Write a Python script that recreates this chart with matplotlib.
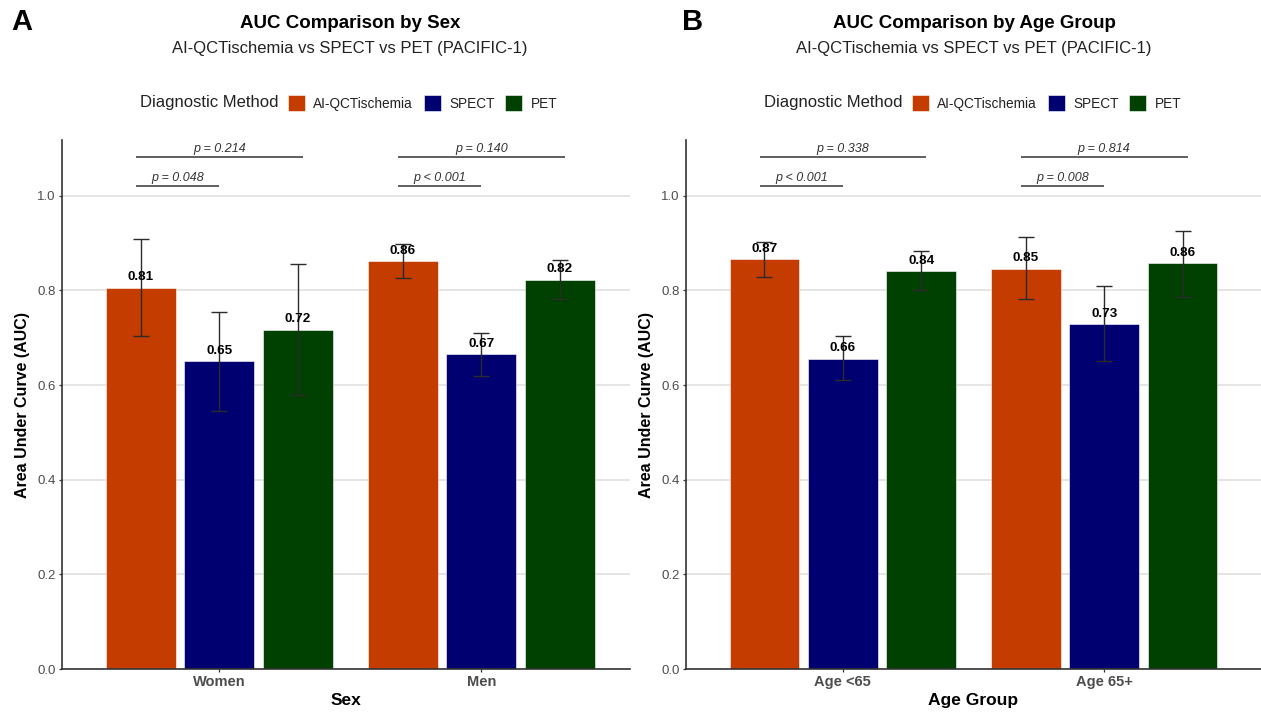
import matplotlib
matplotlib.use('Agg')
import matplotlib.pyplot as plt
from matplotlib.patches import Patch
import numpy as np

plt.rcParams['font.family'] = ['Liberation Sans', 'DejaVu Sans']

# ---------------- data ----------------
methods = ['AI-QCTischemia', 'SPECT', 'PET']
method_colors = ['#C43C00', '#000070', '#004000']

sex_groups = ['Women', 'Men']
sex_auc = [[0.806, 0.862], [0.650, 0.666], [0.717, 0.823]]
sex_lo = [[0.703, 0.826], [0.546, 0.619], [0.579, 0.781]]
sex_hi = [[0.909, 0.899], [0.754, 0.711], [0.855, 0.865]]
sex_p_spect = ['p = 0.048', 'p < 0.001']
sex_p_pet = ['p = 0.214', 'p = 0.140']

age_groups = ['Age <65', 'Age 65+']
age_auc = [[0.866, 0.846], [0.656, 0.729], [0.841, 0.857]]
age_lo = [[0.829, 0.781], [0.610, 0.650], [0.800, 0.787]]
age_hi = [[0.903, 0.912], [0.703, 0.809], [0.883, 0.926]]
age_p_spect = ['p < 0.001', 'p = 0.008']
age_p_pet = ['p = 0.338', 'p = 0.814']

y_ticks = [0.0, 0.2, 0.4, 0.6, 0.8, 1.0]

# ---------------- figure ----------------
W, H = 1261, 712
fig = plt.figure(figsize=(W / 100, H / 100), dpi=100)


def fx(px):
    return px / W


def fy(py):
    return 1 - py / H


def panel(ax, groups, auc, lo, hi, p_spect, p_pet, xlabel, xlim, title, subtitle,
          letter, letter_x, center_px):
    x = np.arange(1, len(groups) + 1)
    offsets = [-0.3, 0.0, 0.3]
    bw = 0.267
    handles = []
    for m, (name, col) in enumerate(zip(methods, method_colors)):
        vals = np.array(auc[m])
        xs = x + offsets[m]
        ax.bar(xs, vals, width=bw, color=col, edgecolor='white', linewidth=0.4,
               zorder=2, label=name)
        handles.append(Patch(facecolor=col, edgecolor='white', linewidth=0.4))
        err = np.vstack([vals - np.array(lo[m]), np.array(hi[m]) - vals])
        ax.errorbar(xs, vals, yerr=err, fmt='none', ecolor='#2b2b2b', elinewidth=1.0,
                    capsize=5.8, capthick=1.0, zorder=3)
        for xi, v in zip(xs, vals):
            ax.text(xi, v + 0.009, f'{v:.2f}', ha='center', va='bottom',
                    fontsize=9.7, fontweight='bold', color='black', zorder=4)
    # significance brackets
    y_low, y_high = 1.021, 1.082
    for i, xi in enumerate(x):
        ax.plot([xi - 0.317, xi], [y_low, y_low], color='#444444', lw=1.2,
                solid_capstyle='butt', zorder=3)
        ax.text(xi - 0.158, y_low + 0.004, p_spect[i], ha='center', va='bottom',
                fontsize=9, style='italic', color='#333333')
        ax.plot([xi - 0.317, xi + 0.32], [y_high, y_high], color='#444444', lw=1.2,
                solid_capstyle='butt', zorder=3)
        ax.text(xi, y_high + 0.004, p_pet[i], ha='center', va='bottom',
                fontsize=9, style='italic', color='#333333')

    ax.set_xlim(*xlim)
    ax.set_ylim(0, 1.118)
    ax.set_xticks(x)
    ax.set_xticklabels(groups, fontsize=10.5, fontweight='bold', color='#4D4D4D')
    ax.set_yticks(y_ticks)
    ax.set_yticklabels([f'{t:.1f}' for t in y_ticks], fontsize=9.5, color='#4D4D4D')
    ax.tick_params(axis='both', length=2.5, width=0.9, color='#333333', pad=2)
    ax.grid(axis='y', color='#DEDEDE', lw=1.1, zorder=0)
    ax.set_axisbelow(True)
    for s in ['top', 'right']:
        ax.spines[s].set_visible(False)
    for s in ['left', 'bottom']:
        ax.spines[s].set_color('#333333')
        ax.spines[s].set_linewidth(1.2)
    ax.set_xlabel(xlabel, fontsize=12.5, fontweight='bold', labelpad=3)
    ax.set_ylabel('Area Under Curve (AUC)', fontsize=11.5, fontweight='bold', labelpad=5)

    fig.text(fx(center_px), fy(24), title, ha='center', va='center', fontsize=13.5,
             fontweight='bold')
    fig.text(fx(center_px), fy(49), subtitle, ha='center', va='center', fontsize=12,
             color='#222222')
    fig.text(fx(letter_x), fy(22), letter, ha='left', va='center', fontsize=21,
             fontweight='bold')
    # legend
    fig.text(fx(center_px - 71), fy(103), 'Diagnostic Method', ha='right', va='center',
             fontsize=12, color='#222222')
    leg = ax.legend(handles, methods, ncol=3, frameon=False, loc='center left',
                    bbox_to_anchor=(fx(center_px - 62), fy(103)),
                    bbox_transform=fig.transFigure, borderpad=0, borderaxespad=0,
                    handlelength=1.25, handleheight=1.45, handletextpad=0.6,
                    columnspacing=0.8, prop={'size': 9.8})
    for t in leg.get_texts():
        t.set_color('#222222')


ax1 = fig.add_axes([fx(62), fy(669), fx(630 - 62), (669 - 140) / H])
ax2 = fig.add_axes([fx(686), fy(669), fx(1261 - 686), (669 - 140) / H])

panel(ax1, sex_groups, sex_auc, sex_lo, sex_hi, sex_p_spect, sex_p_pet, 'Sex',
      (0.4, 0.4 + (630 - 62) / 262), 'AUC Comparison by Sex',
      'AI-QCTischemia vs SPECT vs PET (PACIFIC-1)', 'A', 11, 350)
panel(ax2, age_groups, age_auc, age_lo, age_hi, age_p_spect, age_p_pet, 'Age Group',
      (0.4, 2.6), 'AUC Comparison by Age Group',
      'AI-QCTischemia vs SPECT vs PET (PACIFIC-1)', 'B', 682, 974)

fig.savefig('out.png', dpi=100)
